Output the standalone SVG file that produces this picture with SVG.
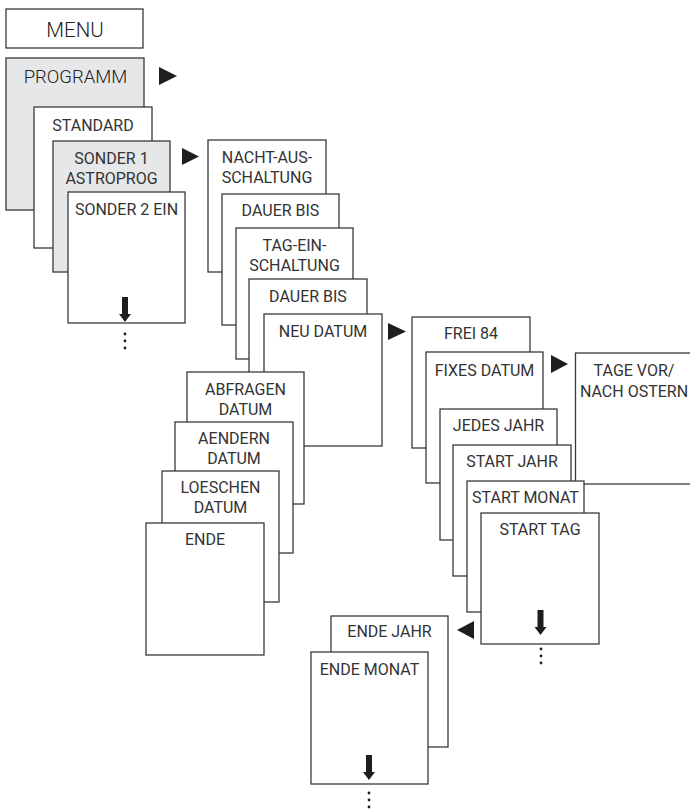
<svg xmlns="http://www.w3.org/2000/svg" width="690" height="810" viewBox="0 0 690 810">
<defs>
<style>
.b{fill:#fff;stroke:#3a3a3a;stroke-width:1.3}
.g{fill:#e6e7e9;stroke:#3a3a3a;stroke-width:1.3}
text{font-family:Roboto,"Liberation Sans",sans-serif;font-size:16px;font-weight:400;fill:#333;text-anchor:middle}
.big{font-size:20.5px;font-weight:300;fill:#222}
.mid{font-size:18.5px;font-weight:300;fill:#222}
.tri{fill:#1e1e1e}
.dot{fill:#1e1e1e}
</style>
<g id="darr"><path d="M-3,0 H3 V17 H6 L0,25 L-6,17 H-3 Z" fill="#1e1e1e"/></g>
<g id="dots"><circle cx="0" cy="0" r="1.4"/><circle cx="0" cy="7" r="1.4"/><circle cx="0" cy="14" r="1.4"/></g>
</defs>
<rect width="690" height="810" fill="#fff"/>

<g id="menu"><rect class="b" x="6" y="9" width="137" height="39"/><text class="big" x="75" y="37">MENU</text></g>
<g id="programm"><rect class="g" x="6" y="58" width="138" height="152"/><text class="mid" x="75.5" y="83">PROGRAMM</text></g>
<g id="standard"><rect class="b" x="34" y="107" width="118" height="141"/><text x="93" y="131">STANDARD</text></g>
<g id="sonder1"><rect class="g" x="53" y="141" width="117" height="131"/><text x="111.5" y="164">SONDER 1</text><text x="111.5" y="184">ASTROPROG</text></g>
<g id="sonder2"><rect class="b" x="68" y="192" width="117" height="131"/><text x="126.5" y="215">SONDER 2 EIN</text><use href="#darr" x="125" y="297"/><use href="#dots" class="dot" x="125" y="334"/></g>

<g id="nacht"><rect class="b" x="208" y="140" width="118" height="132"/><text x="267" y="163">NACHT-AUS-</text><text x="267" y="183">SCHALTUNG</text></g>
<g id="dauer1"><rect class="b" x="222" y="194" width="117" height="131"/><text x="280.5" y="216">DAUER BIS</text></g>
<g id="tagein"><rect class="b" x="236" y="228" width="117" height="131"/><text x="294.5" y="251">TAG-EIN-</text><text x="294.5" y="271">SCHALTUNG</text></g>
<g id="dauer2"><rect class="b" x="249" y="279" width="118" height="131"/><text x="308" y="302">DAUER BIS</text></g>
<g id="neudatum"><rect class="b" x="264" y="314" width="118" height="132"/><text x="323" y="337">NEU DATUM</text></g>

<g id="abfragen"><rect class="b" x="187" y="372" width="117" height="132"/><text x="245.5" y="395">ABFRAGEN</text><text x="245.5" y="415">DATUM</text></g>
<g id="aendern"><rect class="b" x="175" y="422" width="118" height="131"/><text x="234" y="444">AENDERN</text><text x="234" y="464">DATUM</text></g>
<g id="loeschen"><rect class="b" x="162" y="471" width="117" height="131"/><text x="220.5" y="493">LOESCHEN</text><text x="220.5" y="513">DATUM</text></g>
<g id="ende"><rect class="b" x="146" y="523" width="118" height="132"/><text x="205" y="545">ENDE</text></g>

<g id="frei84"><rect class="b" x="412" y="317" width="118" height="131"/><text x="471" y="339">FREI 84</text></g>
<g id="fixes"><rect class="b" x="426" y="352" width="117" height="131"/><text x="484.5" y="376">FIXES DATUM</text></g>
<g id="tagevor"><rect class="b" x="575.5" y="353" width="120" height="131"/><text x="634" y="376">TAGE VOR/</text><text x="634" y="397">NACH OSTERN</text></g>
<g id="jedes"><rect class="b" x="440" y="409" width="117" height="131"/><text x="498.5" y="431">JEDES JAHR</text></g>
<g id="startjahr"><rect class="b" x="453" y="445" width="118" height="131"/><text x="512" y="467">START JAHR</text></g>
<g id="startmonat"><rect class="b" x="467" y="481" width="117" height="131"/><text x="525.5" y="503">START MONAT</text></g>
<g id="starttag"><rect class="b" x="481" y="513" width="118" height="131"/><text x="540" y="535">START TAG</text><use href="#darr" x="540.5" y="610"/><use href="#dots" class="dot" x="541" y="649"/></g>

<g id="endejahr"><rect class="b" x="331" y="616" width="117" height="131"/><text x="389.5" y="637">ENDE JAHR</text></g>
<g id="endemonat"><rect class="b" x="311" y="652" width="117" height="132"/><text x="369.5" y="675">ENDE MONAT</text><use href="#darr" x="369" y="755"/><use href="#dots" class="dot" x="369" y="793"/></g>

<g id="connectors">
<path class="tri" d="M159,67 L177,76 L159,85 Z"/>
<path class="tri" d="M182,148 L199,156.5 L182,165 Z"/>
<path class="tri" d="M388,323 L406,331.5 L388,340 Z"/>
<path class="tri" d="M551,355 L568,364 L551,373 Z"/>
<path class="tri" d="M474,621 L457,630 L474,639 Z"/>
</g>
</svg>
